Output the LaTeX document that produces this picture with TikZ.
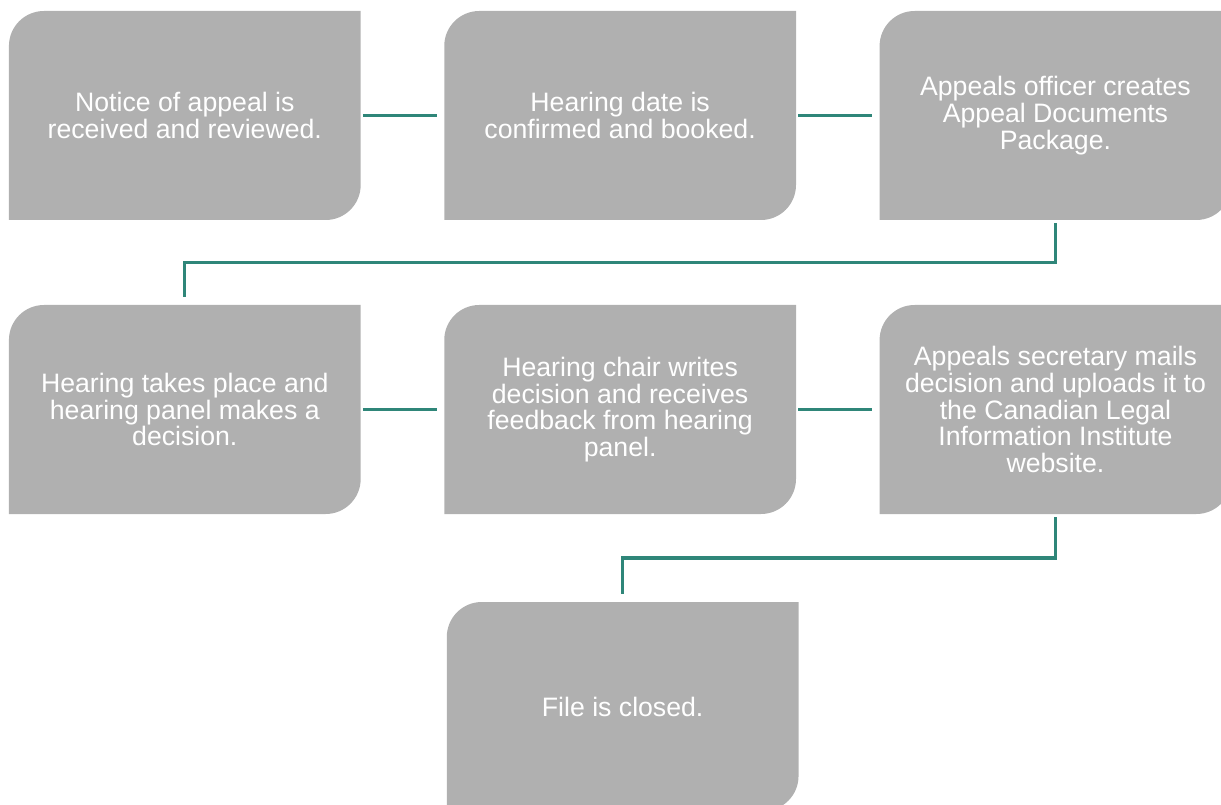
\documentclass[tikz,border=0pt]{standalone}
\usepackage{fontspec}
\setmainfont{Liberation Sans}
\usetikzlibrary{positioning}
\definecolor{stagegray}{RGB}{176,176,176}
\definecolor{linkteal}{RGB}{47,134,121}

\begin{document}
\begin{tikzpicture}[x=0.75pt,y=-0.75pt,node distance=62.7pt,
  stage/.style={minimum width=263.8pt,minimum height=156.75pt,inner sep=0pt,outer sep=0pt,
    align=center,text=white,font=\fontsize{20}{20}\selectfont,
    path picture={\fill[stagegray] (path picture bounding box.south west)
      -- ([yshift=-26.25pt]path picture bounding box.north west)
      arc[start angle=180,end angle=90,radius=26.25pt]
      -- (path picture bounding box.north east)
      -- ([yshift=26.25pt]path picture bounding box.south east)
      arc[start angle=0,end angle=-90,radius=26.25pt] -- cycle;}},
  link/.style={draw=linkteal,line width=2.3pt}]

  \useasboundingbox (0,0) rectangle (1221,805);

  \node[stage] (notice) at (184.8,115.5) {Notice of appeal is\\received and reviewed.};
  \node[stage] (date)    [right=of notice] {Hearing date is\\confirmed and booked.};
  \node[stage] (package) [right=of date]   {Appeals officer creates\\Appeal Documents\\Package.};
  \node[stage] (hearing) [below=63.75pt of notice] {Hearing takes place and\\hearing panel makes a\\decision.};
  \node[stage] (chair)   [right=of hearing] {Hearing chair writes\\decision and receives\\feedback from hearing\\panel.};
  \node[stage] (mail)    [right=of chair]   {Appeals secretary mails\\decision and uploads it to\\the Canadian Legal\\Information Institute\\website.};
  \node[stage] (closed)  [below=66pt of chair,xshift=1.9pt] {File is closed.};

  \draw[link,shorten <=1.7pt,shorten >=5.5pt] (notice) -- (date);
  \draw[link,shorten <=1.7pt,shorten >=5.5pt] (date) -- (package);
  \draw[link,shorten <=2.3pt,shorten >=6.2pt] (package.south) -- ++(0,42.5) -| (hearing.north);
  \draw[link,shorten <=1.7pt,shorten >=5.5pt] (hearing) -- (chair);
  \draw[link,shorten <=1.7pt,shorten >=5.5pt] (chair) -- (mail);
  \draw[link,shorten <=2.3pt,shorten >=6.2pt] (mail.south) -- ++(0,44) -| (closed.north);
\end{tikzpicture}
\end{document}
